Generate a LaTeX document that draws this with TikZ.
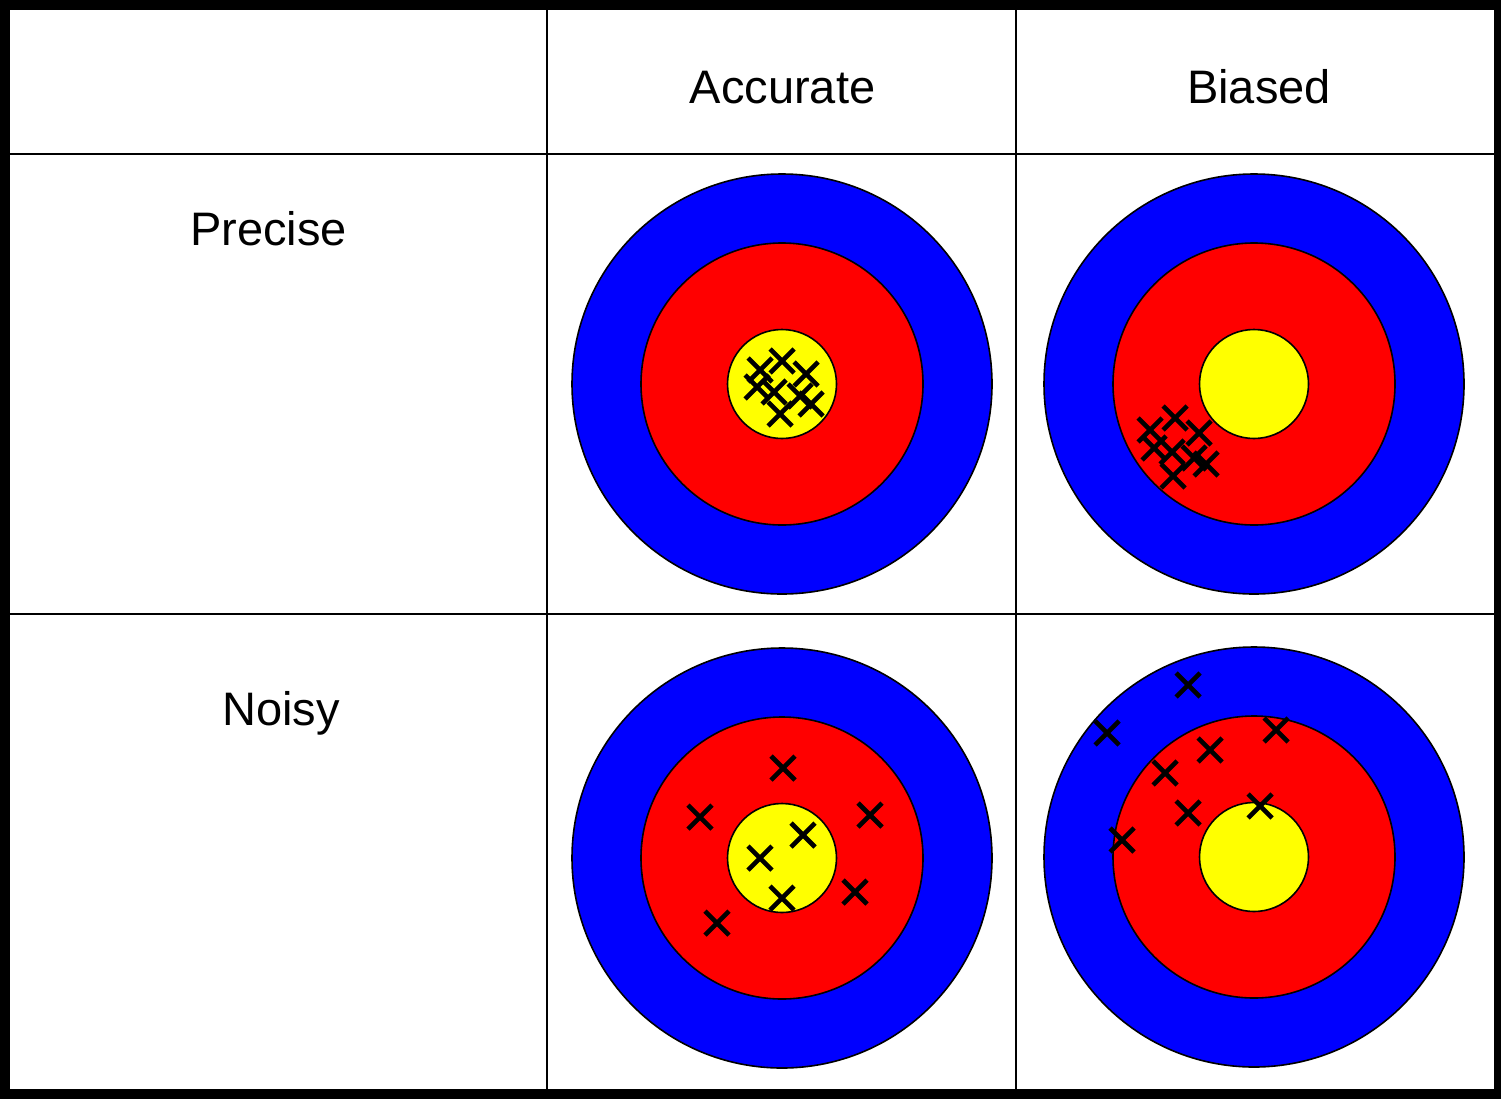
\documentclass[tikz,border=0pt]{standalone}
\usepackage{fontspec}
\setmainfont{Liberation Sans}
\usetikzlibrary{positioning}
\definecolor{ringblue}{HTML}{0000FF}
\definecolor{ringred}{HTML}{FF0000}
\definecolor{ringgold}{HTML}{FFFF00}

\begin{document}
\begin{tikzpicture}[x=1pt,y=-1pt,
 hit/.style={line width=4.6pt},
 lbl/.style={anchor=base,font=\fontsize{47}{56}\selectfont},
 ring/.style={draw=black,line width=1.6pt}]
 \useasboundingbox (0,0) rectangle (1501,1098);
 % table
 \draw[line width=2.5pt] (547,5)--(547,1094) (1016,5)--(1016,1094)
  (5,154)--(1499,154) (5,614)--(1499,614);
 \draw[line width=10pt] (5,4.5) rectangle (1499,1094);
 \node[lbl] (accurate) at (782.5,103) {Accurate};
 \node[lbl] (biased) at (1259,103) {Biased};
 \node[lbl] (precise) at (268.5,245) {Precise};
 \node[lbl] (noisy) at (281,725) {Noisy};
 % targets
 \foreach \cx/\cy [count=\i] in {782/384,1254/384,782/858,1254/857}{
  \coordinate (t\i) at (\cx,\cy);
  \fill[ring,fill=ringblue] (t\i) circle[radius=210pt];
  \fill[ring,fill=ringred] (t\i) circle[radius=141pt];
  \fill[ring,fill=ringgold] (t\i) circle[radius=54.5pt];
 }
 % hits
 \foreach \x/\y in {782/361,760/370,806/374,757/387,774/392,800/396,811/404,780/414,
  1175/418,1150/430,1199/433,1154/448,1172/452,1194/458,1206/464,1173/476,
  783/768,700/817,870/815,803/835,760/858,782/898,855/892,717/923,
  1188/685,1107/733,1276/730,1210/750,1165/773,1188/813,1260/806,1122/840}
  \draw[hit] (\x-12,\y-12)--(\x+12,\y+12) (\x-12,\y+12)--(\x+12,\y-12);
\end{tikzpicture}
\end{document}
